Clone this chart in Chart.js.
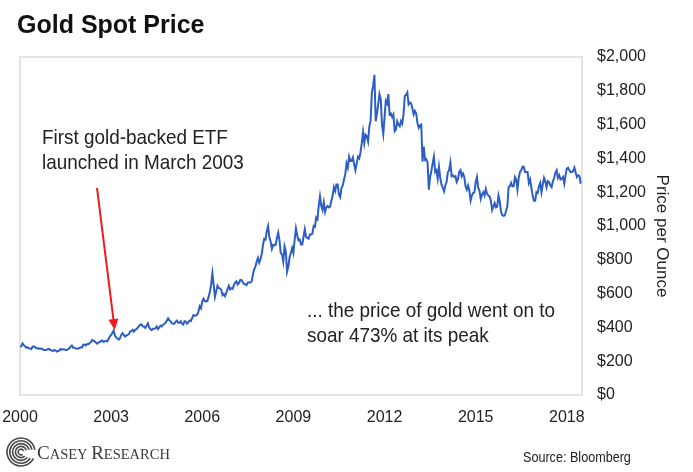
<!DOCTYPE html>
<html>
<head>
<meta charset="utf-8">
<script src="https://cdn.jsdelivr.net/npm/chart.js@4.4.1/dist/chart.umd.min.js"></script>
<style>
    html, body { margin: 0; padding: 0; background: #fff; }
    #wrap { width: 693px; height: 472px; }
</style>
</head>
<body>
<div id="wrap"><canvas id="chart" width="693" height="472"></canvas></div>
<script>
// gold spot price, two readings a month (mid / end), USD per ounce
const p2000 = [285, 288, 305, 295, 288, 279, 283, 276, 275, 272, 286, 288, 282, 278, 275, 276, 273, 275, 270, 266, 266, 268, 271, 273];
const p2001 = [266, 264, 260, 266, 264, 257, 260, 263, 272, 268, 271, 270, 266, 266, 272, 275, 287, 293, 280, 280, 276, 274, 275, 278];
const p2002 = [283, 282, 298, 297, 293, 302, 301, 308, 312, 326, 321, 317, 311, 304, 311, 313, 320, 323, 314, 317, 320, 318, 331, 347];
const p2003 = [356, 368, 382, 352, 340, 334, 328, 336, 355, 366, 356, 346, 351, 355, 360, 375, 378, 386, 375, 386, 390, 398, 407, 416];
const p2004 = [418, 405, 405, 397, 410, 424, 400, 390, 384, 392, 392, 394, 405, 390, 400, 410, 406, 416, 420, 428, 440, 453, 442, 436];
const p2005 = [424, 422, 423, 434, 441, 428, 428, 436, 421, 417, 437, 435, 422, 430, 440, 438, 455, 473, 469, 470, 476, 495, 525, 513];
const p2006 = [555, 570, 555, 556, 555, 582, 610, 654, 720, 652, 580, 613, 646, 633, 630, 623, 590, 598, 585, 604, 628, 646, 625, 632];
const p2007 = [628, 650, 665, 673, 654, 663, 680, 680, 667, 658, 655, 650, 665, 665, 665, 672, 712, 743, 760, 789, 811, 783, 803, 834];
const p2008 = [889, 924, 920, 971, 1000, 933, 909, 865, 888, 885, 889, 930, 960, 915, 840, 833, 790, 880, 850, 730, 760, 815, 840, 870];
const p2009 = [840, 920, 985, 945, 915, 920, 890, 890, 935, 980, 935, 930, 925, 950, 950, 955, 1000, 995, 1050, 1040, 1120, 1175, 1120, 1095];
const p2010 = [1140, 1083, 1110, 1118, 1110, 1115, 1150, 1180, 1230, 1207, 1245, 1245, 1185, 1170, 1225, 1240, 1275, 1307, 1370, 1345, 1410, 1385, 1385, 1405];
const p2011 = [1365, 1330, 1370, 1410, 1400, 1435, 1490, 1556, 1490, 1540, 1530, 1500, 1590, 1625, 1790, 1830, 1895, 1620, 1665, 1720, 1780, 1750, 1600, 1545];
const p2012 = [1640, 1740, 1725, 1780, 1660, 1665, 1645, 1660, 1560, 1570, 1620, 1600, 1590, 1620, 1605, 1660, 1770, 1775, 1790, 1720, 1730, 1725, 1695, 1660];
const p2013 = [1680, 1665, 1610, 1580, 1595, 1600, 1380, 1470, 1390, 1395, 1375, 1215, 1290, 1325, 1370, 1410, 1320, 1330, 1280, 1350, 1285, 1245, 1225, 1205];
const p2014 = [1240, 1260, 1318, 1330, 1375, 1295, 1300, 1290, 1295, 1260, 1275, 1320, 1330, 1295, 1310, 1290, 1235, 1215, 1240, 1210, 1150, 1180, 1195, 1200];
const p2015 = [1260, 1290, 1225, 1210, 1160, 1185, 1200, 1180, 1220, 1190, 1180, 1175, 1150, 1095, 1115, 1135, 1110, 1115, 1180, 1145, 1085, 1065, 1060, 1062];
const p2016 = [1090, 1115, 1230, 1235, 1255, 1235, 1235, 1290, 1275, 1215, 1285, 1320, 1330, 1350, 1350, 1320, 1320, 1320, 1255, 1275, 1225, 1180, 1150, 1150];
const p2017 = [1200, 1195, 1235, 1255, 1200, 1245, 1285, 1265, 1230, 1265, 1260, 1240, 1230, 1265, 1285, 1315, 1330, 1285, 1300, 1275, 1280, 1290, 1250, 1300];
const p2018 = [1340, 1345, 1330, 1320, 1320, 1325, 1345, 1315, 1290, 1300, 1295, 1250];

const startYear = 2000;
const yearlyPrices = [p2000, p2001, p2002, p2003, p2004, p2005, p2006, p2007, p2008, p2009,
    p2010, p2011, p2012, p2013, p2014, p2015, p2016, p2017, p2018];

const xTicks = [2000, 2003, 2006, 2009, 2012, 2015, 2018];
const yTicks = [0, 200, 400, 600, 800, 1000, 1200, 1400, 1600, 1800, 2000];

const titleText = 'Gold Spot Price';
const axisTitle = 'Price per Ounce';
const etfNote = ['First gold-backed ETF', 'launched in March 2003'];
const peakNote = ['... the price of gold went on to', 'soar 473% at its peak'];
const sourceText = 'Source: Bloomberg';

const FONT = '"Liberation Sans", Arial, Helvetica, sans-serif';
const SERIF = '"Liberation Serif", "Times New Roman", serif';

let points = [];
yearlyPrices.forEach((arr, yi) => {
    arr.forEach((v, i) => {
        points.push({ x: startYear + yi + i / 24, y: v });
    });
});

// white background + light frame round the plot
const framePlugin = {
    id: 'frame',
    beforeDraw(chart) {
        const ctx = chart.ctx;
        ctx.save();
        ctx.fillStyle = '#fff';
        ctx.fillRect(0, 0, chart.width, chart.height);
        const a = chart.chartArea;
        ctx.strokeStyle = '#e4e4e4';
        ctx.lineWidth = 2;
        ctx.strokeRect(a.left, a.top, a.right - a.left, a.bottom - a.top);
        ctx.restore();
    }
};

// text a bit narrower than the font, as in the source picture
function narrowText(ctx, txt, x, y, squeeze) {
    ctx.save();
    ctx.translate(x, y);
    ctx.scale(squeeze, 1);
    ctx.fillText(txt, 0, 0);
    ctx.restore();
}

function drawLogo(ctx, cx, cy) {
    ctx.save();
    ctx.strokeStyle = '#4a4a4a';
    ctx.lineWidth = 1.6;
    let radii = [14, 11.2, 8.4, 5.6, 2.8];
    for (let i = 0; i < radii.length; i++) {
        ctx.beginPath();
        ctx.arc(cx, cy, radii[i], 0.15 * Math.PI + i * 0.12, 1.95 * Math.PI - i * 0.05);
        ctx.stroke();
    }
    ctx.fillStyle = '#3a3a3a';
    ctx.textBaseline = 'alphabetic';
    let x = cx + 16;
    const y = cy + 7;
    const parts = [['C', 19], ['ASEY', 14.5], [' ', 14.5], ['R', 19], ['ESEARCH', 14.5]];
    for (const [t, s] of parts) {
        ctx.font = s + 'px ' + SERIF;
        ctx.fillText(t, x, y);
        x += ctx.measureText(t).width;
    }
    ctx.restore();
}

const notesPlugin = {
    id: 'notes',
    afterDraw(chart) {
        const ctx = chart.ctx;
        const xs = chart.scales.x, ys = chart.scales.y;
        ctx.save();
        ctx.textBaseline = 'alphabetic';

        ctx.fillStyle = '#111';
        ctx.font = 'bold 25px ' + FONT;
        ctx.fillText(titleText, 17, 33);

        ctx.fillStyle = '#222';
        ctx.font = '21px ' + FONT;
        narrowText(ctx, etfNote[0], 42, 144, 0.9);
        narrowText(ctx, etfNote[1], 42, 169, 0.9);
        narrowText(ctx, peakNote[0], 307, 317, 0.9);
        narrowText(ctx, peakNote[1], 307, 342, 0.9);

        // axis title on the right, reading downwards
        ctx.save();
        ctx.font = '17px ' + FONT;
        ctx.textAlign = 'center';
        ctx.translate(657, 236);
        ctx.rotate(Math.PI / 2);
        ctx.fillText(axisTitle, 0, 0);
        ctx.restore();

        // red arrow to the March 2003 launch
        const tx = xs.getPixelForValue(2003.12), ty = ys.getPixelForValue(385);
        const sx = 97, sy = 188;
        const ang = Math.atan2(ty - sy, tx - sx);
        ctx.strokeStyle = '#f0191b';
        ctx.fillStyle = '#f0191b';
        ctx.lineWidth = 2;
        ctx.beginPath();
        ctx.moveTo(sx, sy);
        ctx.lineTo(tx - 9 * Math.cos(ang), ty - 9 * Math.sin(ang));
        ctx.stroke();
        ctx.beginPath();
        ctx.moveTo(tx, ty);
        ctx.lineTo(tx - 11 * Math.cos(ang) + 5 * Math.sin(ang), ty - 11 * Math.sin(ang) - 5 * Math.cos(ang));
        ctx.lineTo(tx - 11 * Math.cos(ang) - 5 * Math.sin(ang), ty - 11 * Math.sin(ang) + 5 * Math.cos(ang));
        ctx.closePath();
        ctx.fill();

        drawLogo(ctx, 21, 452);

        ctx.fillStyle = '#222';
        ctx.font = '14px ' + FONT;
        narrowText(ctx, sourceText, 523, 462, 0.9);
        ctx.restore();
    }
};

Chart.defaults.font.family = FONT;

new Chart(document.getElementById('chart'), {
    type: 'line',
    data: {
        datasets: [{
            data: points,
            borderColor: '#2c5ec4',
            borderWidth: 2,
            pointRadius: 0,
            tension: 0,
            fill: false
        }]
    },
    options: {
        responsive: false,
        animation: false,
        layout: { padding: { left: 20, top: 57, right: 0, bottom: 0 } },
        plugins: { legend: { display: false }, tooltip: { enabled: false } },
        events: [],
        scales: {
            x: {
                type: 'linear',
                min: 2000,
                max: 2018.5,
                grid: { display: false, drawTicks: false },
                border: { display: false },
                afterBuildTicks: s => { s.ticks = xTicks.map(v => ({ value: v })); },
                afterFit: s => { s.height = 77; s.paddingLeft = 0; s.paddingRight = 0; },
                ticks: {
                    autoSkip: false,
                    maxRotation: 0,
                    padding: 13,
                    color: '#222',
                    font: { size: 16 },
                    callback: v => String(v)
                }
            },
            y: {
                position: 'right',
                min: 0,
                max: 2000,
                grid: { display: false, drawTicks: false },
                border: { display: false },
                afterBuildTicks: s => { s.ticks = yTicks.map(v => ({ value: v })); },
                afterFit: s => { s.width = 111; s.paddingTop = 0; s.paddingBottom = 0; },
                ticks: {
                    padding: 15,
                    color: '#222',
                    font: { size: 16 },
                    callback: v => '$' + v.toLocaleString('en-US')
                }
            }
        }
    },
    plugins: [framePlugin, notesPlugin]
});
</script>
</body>
</html>
